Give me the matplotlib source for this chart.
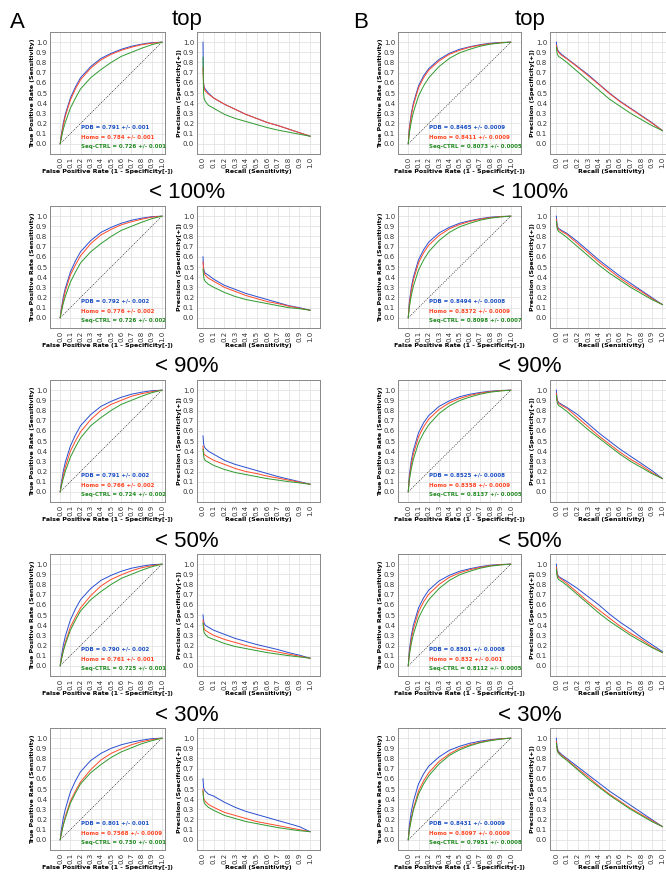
#ROC and precision-recall panels, datasets A and B, one row per identity cut-off

import numpy as np
import matplotlib
matplotlib.use("Agg")
import matplotlib.pyplot as plt
import matplotlib.ticker as tick

row_titles = ["top", "< 100%", "< 90%", "< 50%", "< 30%"]
series_names = ["PDB", "Homo", "Seq-CTRL"]

# AUC text of every ROC panel (one entry per row)
auc_A_pdb = ["0.791 +/- 0.001", "0.792 +/- 0.002", "0.791 +/- 0.002", "0.790 +/- 0.002", "0.801 +/- 0.001"]
auc_A_homo = ["0.784 +/- 0.001", "0.776 +/- 0.002", "0.766 +/- 0.002", "0.761 +/- 0.001", "0.7568 +/- 0.0009"]
auc_A_seq = ["0.726 +/- 0.001", "0.726 +/- 0.002", "0.724 +/- 0.002", "0.725 +/- 0.001", "0.730 +/- 0.001"]
auc_B_pdb = ["0.8465 +/- 0.0009", "0.8494 +/- 0.0008", "0.8525 +/- 0.0008", "0.8501 +/- 0.0008", "0.8431 +/- 0.0009"]
auc_B_homo = ["0.8411 +/- 0.0009", "0.8372 +/- 0.0009", "0.8358 +/- 0.0009", "0.832 +/- 0.001", "0.8097 +/- 0.0009"]
auc_B_seq = ["0.8073 +/- 0.0005", "0.8098 +/- 0.0007", "0.8137 +/- 0.0005", "0.8112 +/- 0.0005", "0.7951 +/- 0.0008"]

# ROC curves
fpr = [0, 0.01, 0.03, 0.05, 0.1, 0.15, 0.2, 0.3, 0.4, 0.5, 0.6, 0.7, 0.8, 0.9, 1.0]
roc_A_pdb = [
    [0, 0.08, 0.20, 0.29, 0.45, 0.56, 0.65, 0.76, 0.84, 0.89, 0.93, 0.96, 0.98, 0.995, 1.0],
    [0, 0.08, 0.20, 0.29, 0.45, 0.56, 0.65, 0.76, 0.84, 0.89, 0.93, 0.96, 0.98, 0.995, 1.0],
    [0, 0.08, 0.20, 0.29, 0.45, 0.56, 0.65, 0.76, 0.84, 0.89, 0.93, 0.96, 0.98, 0.995, 1.0],
    [0, 0.08, 0.20, 0.29, 0.45, 0.56, 0.65, 0.76, 0.84, 0.89, 0.93, 0.96, 0.98, 0.995, 1.0],
    [0, 0.09, 0.21, 0.30, 0.47, 0.58, 0.67, 0.78, 0.85, 0.90, 0.935, 0.96, 0.98, 0.995, 1.0],
]
roc_A_homo = [
    [0, 0.07, 0.18, 0.27, 0.43, 0.54, 0.63, 0.745, 0.825, 0.88, 0.92, 0.95, 0.975, 0.99, 1.0],
    [0, 0.07, 0.17, 0.26, 0.42, 0.52, 0.61, 0.73, 0.815, 0.87, 0.915, 0.945, 0.97, 0.99, 1.0],
    [0, 0.06, 0.16, 0.24, 0.40, 0.50, 0.59, 0.71, 0.80, 0.86, 0.90, 0.94, 0.965, 0.985, 1.0],
    [0, 0.06, 0.15, 0.23, 0.38, 0.48, 0.57, 0.69, 0.785, 0.85, 0.895, 0.935, 0.965, 0.985, 1.0],
    [0, 0.06, 0.15, 0.23, 0.38, 0.48, 0.57, 0.69, 0.785, 0.85, 0.895, 0.935, 0.965, 0.985, 1.0],
]
roc_A_seq = [
    [0, 0.05, 0.14, 0.21, 0.35, 0.45, 0.54, 0.65, 0.73, 0.80, 0.86, 0.90, 0.94, 0.975, 1.0],
    [0, 0.05, 0.14, 0.21, 0.35, 0.45, 0.54, 0.65, 0.73, 0.80, 0.86, 0.90, 0.94, 0.975, 1.0],
    [0, 0.05, 0.13, 0.20, 0.34, 0.44, 0.53, 0.65, 0.73, 0.80, 0.86, 0.90, 0.94, 0.975, 1.0],
    [0, 0.05, 0.14, 0.21, 0.35, 0.45, 0.54, 0.65, 0.73, 0.80, 0.86, 0.90, 0.94, 0.975, 1.0],
    [0, 0.05, 0.14, 0.21, 0.36, 0.46, 0.55, 0.66, 0.74, 0.81, 0.865, 0.905, 0.945, 0.975, 1.0],
]
roc_B_pdb = [
    [0, 0.15, 0.30, 0.40, 0.57, 0.67, 0.74, 0.83, 0.89, 0.93, 0.955, 0.975, 0.99, 0.997, 1.0],
    [0, 0.15, 0.30, 0.40, 0.57, 0.67, 0.745, 0.835, 0.89, 0.93, 0.955, 0.975, 0.99, 0.997, 1.0],
    [0, 0.16, 0.31, 0.41, 0.58, 0.68, 0.75, 0.84, 0.895, 0.935, 0.96, 0.977, 0.99, 0.997, 1.0],
    [0, 0.15, 0.30, 0.40, 0.57, 0.67, 0.745, 0.835, 0.89, 0.93, 0.955, 0.975, 0.99, 0.997, 1.0],
    [0, 0.14, 0.28, 0.38, 0.55, 0.65, 0.725, 0.815, 0.88, 0.92, 0.95, 0.97, 0.985, 0.995, 1.0],
]
roc_B_homo = [
    [0, 0.14, 0.28, 0.38, 0.55, 0.65, 0.725, 0.815, 0.88, 0.92, 0.95, 0.97, 0.985, 0.995, 1.0],
    [0, 0.13, 0.27, 0.37, 0.54, 0.64, 0.715, 0.81, 0.875, 0.918, 0.948, 0.97, 0.985, 0.995, 1.0],
    [0, 0.13, 0.27, 0.37, 0.54, 0.64, 0.715, 0.81, 0.875, 0.918, 0.948, 0.97, 0.985, 0.995, 1.0],
    [0, 0.12, 0.26, 0.36, 0.53, 0.63, 0.705, 0.80, 0.87, 0.915, 0.945, 0.968, 0.985, 0.995, 1.0],
    [0, 0.10, 0.22, 0.31, 0.48, 0.58, 0.66, 0.77, 0.845, 0.90, 0.935, 0.96, 0.98, 0.993, 1.0],
]
roc_B_seq = [
    [0, 0.10, 0.22, 0.31, 0.47, 0.57, 0.65, 0.76, 0.84, 0.895, 0.93, 0.96, 0.98, 0.992, 1.0],
    [0, 0.10, 0.22, 0.31, 0.47, 0.57, 0.65, 0.76, 0.84, 0.895, 0.93, 0.96, 0.98, 0.992, 1.0],
    [0, 0.11, 0.23, 0.32, 0.48, 0.58, 0.66, 0.77, 0.845, 0.897, 0.932, 0.96, 0.98, 0.992, 1.0],
    [0, 0.10, 0.22, 0.31, 0.47, 0.57, 0.65, 0.76, 0.84, 0.895, 0.93, 0.96, 0.98, 0.992, 1.0],
    [0, 0.09, 0.20, 0.29, 0.45, 0.55, 0.63, 0.745, 0.83, 0.885, 0.925, 0.955, 0.975, 0.99, 1.0],
]

# precision-recall curves
recall = [0, 0.005, 0.01, 0.02, 0.05, 0.1, 0.2, 0.3, 0.4, 0.5, 0.6, 0.7, 0.8, 0.9, 1.0]
pr_A_pdb = [
    [1.0, 0.60, 0.56, 0.54, 0.50, 0.45, 0.39, 0.34, 0.29, 0.25, 0.21, 0.18, 0.145, 0.11, 0.075],
    [0.60, 0.50, 0.46, 0.44, 0.42, 0.38, 0.32, 0.28, 0.24, 0.21, 0.18, 0.15, 0.12, 0.10, 0.075],
    [0.55, 0.48, 0.45, 0.43, 0.40, 0.37, 0.31, 0.27, 0.24, 0.21, 0.18, 0.15, 0.125, 0.10, 0.075],
    [0.50, 0.45, 0.42, 0.40, 0.38, 0.35, 0.31, 0.27, 0.24, 0.21, 0.185, 0.16, 0.13, 0.105, 0.075],
    [0.60, 0.52, 0.50, 0.48, 0.45, 0.43, 0.37, 0.32, 0.28, 0.25, 0.22, 0.19, 0.16, 0.13, 0.08],
]
pr_A_homo = [
    [0.75, 0.60, 0.55, 0.52, 0.49, 0.45, 0.39, 0.34, 0.29, 0.25, 0.21, 0.18, 0.145, 0.11, 0.075],
    [0.55, 0.48, 0.44, 0.42, 0.39, 0.36, 0.30, 0.26, 0.22, 0.19, 0.16, 0.14, 0.115, 0.095, 0.075],
    [0.45, 0.40, 0.37, 0.36, 0.34, 0.31, 0.27, 0.23, 0.20, 0.18, 0.155, 0.135, 0.115, 0.095, 0.075],
    [0.45, 0.40, 0.37, 0.35, 0.33, 0.30, 0.26, 0.23, 0.20, 0.175, 0.155, 0.135, 0.115, 0.095, 0.075],
    [0.50, 0.42, 0.40, 0.38, 0.35, 0.32, 0.27, 0.24, 0.21, 0.18, 0.16, 0.14, 0.12, 0.10, 0.08],
]
pr_A_seq = [
    [0.85, 0.50, 0.45, 0.42, 0.38, 0.35, 0.29, 0.25, 0.22, 0.19, 0.16, 0.135, 0.115, 0.095, 0.075],
    [0.48, 0.42, 0.38, 0.36, 0.33, 0.30, 0.25, 0.21, 0.18, 0.16, 0.14, 0.12, 0.10, 0.09, 0.075],
    [0.42, 0.36, 0.33, 0.31, 0.29, 0.26, 0.22, 0.19, 0.17, 0.15, 0.13, 0.115, 0.10, 0.088, 0.075],
    [0.42, 0.36, 0.33, 0.31, 0.28, 0.26, 0.22, 0.19, 0.17, 0.15, 0.13, 0.115, 0.10, 0.088, 0.075],
    [0.48, 0.40, 0.37, 0.35, 0.32, 0.29, 0.24, 0.21, 0.18, 0.16, 0.14, 0.12, 0.105, 0.09, 0.08],
]
pr_B_pdb = [
    [1.0, 0.95, 0.93, 0.91, 0.88, 0.84, 0.76, 0.68, 0.59, 0.50, 0.42, 0.35, 0.28, 0.21, 0.13],
    [1.0, 0.93, 0.90, 0.88, 0.86, 0.83, 0.75, 0.66, 0.57, 0.49, 0.41, 0.34, 0.27, 0.20, 0.13],
    [1.0, 0.93, 0.90, 0.88, 0.86, 0.83, 0.76, 0.67, 0.58, 0.50, 0.42, 0.35, 0.28, 0.21, 0.13],
    [1.0, 0.93, 0.90, 0.88, 0.86, 0.83, 0.76, 0.68, 0.60, 0.51, 0.43, 0.36, 0.28, 0.21, 0.14],
    [1.0, 0.93, 0.90, 0.87, 0.84, 0.80, 0.72, 0.64, 0.56, 0.48, 0.41, 0.34, 0.27, 0.20, 0.13],
]
pr_B_homo = [
    [0.97, 0.94, 0.92, 0.90, 0.87, 0.835, 0.755, 0.67, 0.585, 0.495, 0.415, 0.345, 0.275, 0.205, 0.13],
    [0.97, 0.92, 0.89, 0.87, 0.85, 0.82, 0.73, 0.64, 0.55, 0.47, 0.39, 0.32, 0.26, 0.19, 0.13],
    [0.97, 0.92, 0.89, 0.87, 0.85, 0.82, 0.73, 0.64, 0.55, 0.47, 0.39, 0.32, 0.26, 0.19, 0.13],
    [0.97, 0.92, 0.89, 0.87, 0.85, 0.81, 0.72, 0.63, 0.55, 0.47, 0.39, 0.32, 0.26, 0.19, 0.13],
    [0.97, 0.91, 0.88, 0.86, 0.83, 0.79, 0.70, 0.62, 0.53, 0.45, 0.38, 0.31, 0.25, 0.19, 0.13],
]
pr_B_seq = [
    [0.95, 0.90, 0.88, 0.86, 0.84, 0.80, 0.71, 0.62, 0.53, 0.44, 0.37, 0.30, 0.24, 0.18, 0.13],
    [0.95, 0.90, 0.87, 0.85, 0.83, 0.79, 0.70, 0.61, 0.52, 0.44, 0.37, 0.30, 0.24, 0.18, 0.13],
    [0.95, 0.90, 0.87, 0.85, 0.83, 0.79, 0.70, 0.61, 0.53, 0.45, 0.37, 0.30, 0.24, 0.18, 0.13],
    [0.95, 0.90, 0.87, 0.85, 0.83, 0.79, 0.70, 0.61, 0.52, 0.44, 0.37, 0.30, 0.24, 0.18, 0.13],
    [0.95, 0.90, 0.87, 0.85, 0.82, 0.78, 0.69, 0.60, 0.52, 0.44, 0.37, 0.30, 0.24, 0.18, 0.13],
]

line_colors = ["#2a4fd0", "#ff4a2a", "#2f9a2f"]
text_colors = ["#1a4fc4", "#ff4422", "#228b22"]

W, H = 666, 872
fig = plt.figure(figsize=(W / 100, H / 100), dpi=100, facecolor="white")


def px_axes(left, right, top, bottom):
    # axes from pixel edges
    return fig.add_axes([left / W, 1 - bottom / H, (right - left) / W, (bottom - top) / H])


def style_axes(ax, xlim):
    ax.set_xlim(*xlim)
    ax.set_ylim(-0.1, 1.1)
    ax.xaxis.set_major_locator(tick.FixedLocator(np.round(np.arange(0, 1.01, 0.1), 1)))
    ax.yaxis.set_major_locator(tick.FixedLocator(np.round(np.arange(0, 1.01, 0.1), 1)))
    ax.xaxis.set_major_formatter(tick.FormatStrFormatter("%.1f"))
    ax.yaxis.set_major_formatter(tick.FormatStrFormatter("%.1f"))
    ax.tick_params(axis="x", labelrotation=90)
    ax.tick_params(length=0, pad=2, labelsize=5, labelcolor="#333333")
    ax.grid(True, color="#dddddd", linewidth=0.5)
    ax.set_axisbelow(True)
    for s in ax.spines.values():
        s.set_color("#888888")
        s.set_linewidth(0.7)


def roc_panel(ax, curves, labels, xlim):
    style_axes(ax, xlim)
    ax.plot([0, 1], [0, 1], color="k", linestyle=(0, (2, 2)), linewidth=0.4)
    for c, y, in zip(line_colors, curves):
        ax.plot(fpr, y, color=c, linewidth=0.7)
    for i, (name, lab) in enumerate(zip(series_names, labels)):
        ax.text(0.2, 0.17 - 0.1 * i, f"{name} = {lab}", color=text_colors[i],
                fontsize=4.0, fontweight="bold", va="center", ha="left")
    ax.set_xlabel("False Positive Rate (1 - Specificity[-])", fontsize=4.5, fontweight="bold", labelpad=1)
    ax.set_ylabel("True Positive Rate (Sensitivity)", fontsize=4.5, fontweight="bold", labelpad=1)


def pr_panel(ax, curves, xlim):
    style_axes(ax, xlim)
    for c, y in zip(line_colors, curves):
        ax.plot(recall, y, color=c, linewidth=0.7)
    ax.set_xlabel("Recall (Sensitivity)", fontsize=4.5, fontweight="bold", labelpad=1)
    ax.set_ylabel("Precision (Specificity[+])", fontsize=4.5, fontweight="bold", labelpad=1)


for k in range(5):
    top = 32 + 174 * k
    bot = 154 + 174 * k

    #dataset A
    ax = px_axes(50, 165, top, bot)
    roc_panel(ax, [roc_A_pdb[k], roc_A_homo[k], roc_A_seq[k]],
              [auc_A_pdb[k], auc_A_homo[k], auc_A_seq[k]], (-0.1, 1.03))
    ax = px_axes(197, 320, top, bot)
    pr_panel(ax, [pr_A_pdb[k], pr_A_homo[k], pr_A_seq[k]], (-0.056, 1.093))

    #dataset B
    ax = px_axes(398, 521, top, bot)
    roc_panel(ax, [roc_B_pdb[k], roc_B_homo[k], roc_B_seq[k]],
              [auc_B_pdb[k], auc_B_homo[k], auc_B_seq[k]], (-0.1, 1.1))
    ax = px_axes(550, 673, top, bot)
    pr_panel(ax, [pr_B_pdb[k], pr_B_homo[k], pr_B_seq[k]], (-0.06, 1.1))

    # row titles
    yc = 1 - (19 + 174 * k) / H
    fig.text(187 / W, yc, row_titles[k], fontsize=16, family="Liberation Sans", ha="center", va="center")
    fig.text(530 / W, yc, row_titles[k], fontsize=16, family="Liberation Sans", ha="center", va="center")

fig.text(10 / W, 1 - 22 / H, "A", fontsize=16, family="Liberation Sans", ha="left", va="center")
fig.text(353 / W, 1 - 22 / H, "B", fontsize=16, family="Liberation Sans", ha="left", va="center")

fig.savefig("out.png", dpi=100, facecolor="white")
plt.close(fig)
